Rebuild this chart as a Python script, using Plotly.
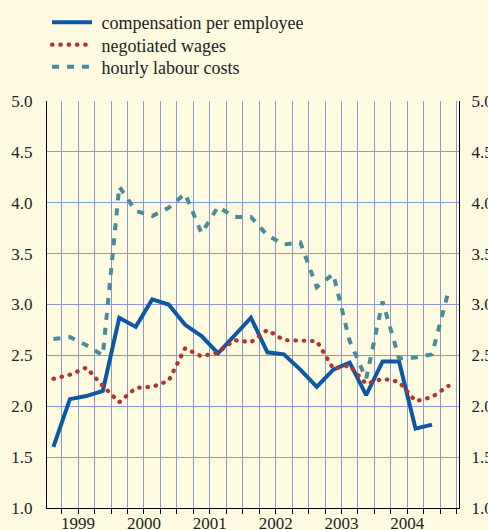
import plotly.graph_objects as go

# quarter index: 0 = 1999 Q1
quarters = list(range(25))
years = ["1999", "2000", "2001", "2002", "2003", "2004"]
year_centres = [1.5, 5.5, 9.5, 13.5, 17.5, 21.5]

compensation = [1.60, 2.07, 2.10, 2.15, 2.87, 2.78, 3.05, 3.00, 2.80, 2.69,
                2.52, 2.70, 2.87, 2.53, 2.51, 2.36, 2.19, 2.36, 2.43, 2.11,
                2.44, 2.44, 1.78, 1.82]
negotiated = [2.27, 2.31, 2.38, 2.20, 2.04, 2.18, 2.19, 2.25, 2.57, 2.49,
              2.53, 2.65, 2.63, 2.75, 2.65, 2.64, 2.64, 2.37, 2.40, 2.22,
              2.27, 2.24, 2.05, 2.09, 2.20]
hourly = [2.66, 2.68, 2.60, 2.50, 4.16, 3.92, 3.87, 3.95, 4.09, 3.70,
          3.96, 3.86, 3.86, 3.68, 3.59, 3.61, 3.17, 3.30, 2.64, 2.27,
          3.03, 2.47, 2.48, 2.51, 3.13]
names = ["compensation per employee", "negotiated wages", "hourly labour costs"]

BG = "#fefbe1"
GRID = "#8a98d8"
RED = "rgb(181, 51, 46)"
FONT = "Times New Roman, DejaVu Serif, serif"
PAD = "\u00a0"

fig = go.Figure()
fig.add_trace(go.Scatter(x=quarters[:len(compensation)], y=compensation, mode="lines",
                         name=PAD + names[0], legend="legend",
                         line=dict(color="#0d58a5", width=4)))
fig.add_trace(go.Scatter(x=quarters[:len(negotiated)], y=negotiated, mode="lines",
                         name=PAD + names[1], legend="legend2",
                         line=dict(color=RED, width=4.2, dash="0.5px,7.8px")))
fig.add_trace(go.Scatter(x=quarters[:len(hourly)], y=hourly, mode="lines",
                         name=PAD + names[2], legend="legend3",
                         line=dict(color="#4a8b9b", width=4, dash="7px,8px")))
# invisible trace for right axis
fig.add_trace(go.Scatter(x=[quarters[0]], y=[compensation[0]], yaxis="y2",
                         mode="lines", showlegend=False, hoverinfo="skip",
                         line=dict(color="rgba(0,0,0,0)")))

legend_common = dict(x=0.0, xanchor="left", yanchor="middle",
                     bgcolor="rgba(0,0,0,0)", font=dict(family=FONT, size=18),
                     itemwidth=40)

fig.update_layout(
    width=488, height=530,
    margin=dict(l=47, r=29, t=101, b=22, autoexpand=False),
    paper_bgcolor=BG, plot_bgcolor=BG,
    font=dict(family=FONT, size=17, color="#222222"),
    showlegend=True,
    legend=dict(y=1.1929, **legend_common),
    legend2=dict(y=1.1376, **legend_common),
    legend3=dict(y=1.0835, **legend_common),
    xaxis=dict(range=[-0.39, 24.64], tickmode="array", tickvals=year_centres,
               ticktext=years, ticks="", showgrid=False, zeroline=False,
               showline=True, linecolor="black", linewidth=1, automargin=False,
               minor=dict(tick0=-0.5, dtick=1, ticks="outside", ticklen=5,
                          tickcolor="black", tickwidth=1, showgrid=True,
                          gridcolor=GRID, gridwidth=1),
               tickfont=dict(family=FONT, size=17)),
    yaxis=dict(range=[1, 5], dtick=0.5, tickformat=".1f", showgrid=True,
               gridcolor=GRID, gridwidth=1, zeroline=False, showline=True,
               linecolor="black", linewidth=1, ticks="", ticklabelstandoff=10,
               automargin=False, tickfont=dict(family=FONT, size=17)),
    yaxis2=dict(range=[1, 5], dtick=0.5, tickformat=".1f", overlaying="y",
                side="right", showgrid=False, zeroline=False, showline=True,
                linecolor="black", linewidth=1, ticks="", ticklabelstandoff=8,
                automargin=False, tickfont=dict(family=FONT, size=17)),
)

post = (
    "document.body.style.margin='0';"
    "document.body.style.background='" + BG + "';"
    "document.querySelectorAll('path').forEach(function(p){"
    "if(p.style.stroke==='" + RED + "'){p.style.strokeLinecap='round';}});"
)

fig.write_html("out.html", config={"displayModeBar": False}, post_script=post)
